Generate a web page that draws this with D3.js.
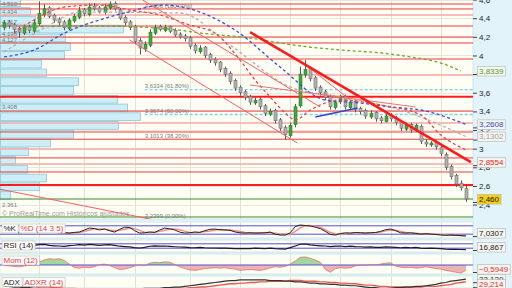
<!DOCTYPE html>
<html lang="es">
<head>
<meta charset="UTF-8">
<meta name="viewport" content="width=device-width, initial-scale=1.0">
<title>Análisis técnico</title>
<script src="https://d3js.org/d3.v7.min.js"></script>
<style>
  body { margin: 0; background: #e2f4f9; }
  #chart svg { display: block; font-family: 'Liberation Sans', Arial, sans-serif; }
</style>
</head>
<body>
<div id="chart"></div>
<script>
// daily candles
const opens = [4.30,4.36,4.33,4.29,4.24,4.31,4.26,4.34,4.44,4.51,
  4.43,4.39,4.36,4.29,4.37,4.41,4.49,4.44,4.53,4.51,
  4.46,4.51,4.56,4.49,4.41,4.36,4.31,4.16,4.07,4.11,
  4.24,4.31,4.27,4.31,4.27,4.23,4.21,4.19,4.11,4.04,
  4.09,4.01,3.96,3.93,3.86,3.81,3.73,3.66,3.61,3.56,
  3.49,3.53,3.46,3.37,3.41,3.31,3.23,3.14,3.26,3.46,
  3.79,3.86,3.76,3.66,3.61,3.56,3.44,3.51,3.56,3.44,
  3.51,3.43,3.41,3.34,3.39,3.33,3.29,3.36,3.33,3.29,
  3.21,3.26,3.19,3.24,3.07,3.04,3.07,3.01,2.94,2.81,
  2.71,2.63,2.57];
const highs = [4.38,4.38,4.35,4.31,4.33,4.33,4.38,4.58,4.55,4.53,
  4.45,4.41,4.38,4.40,4.45,4.52,4.51,4.56,4.56,4.53,
  4.55,4.58,4.58,4.51,4.43,4.38,4.33,4.19,4.15,4.28,
  4.33,4.33,4.33,4.32,4.29,4.25,4.23,4.21,4.13,4.11,
  4.10,4.03,3.98,3.94,3.88,3.83,3.75,3.68,3.63,3.58,
  3.55,3.55,3.48,3.43,3.43,3.33,3.25,3.28,3.48,3.88,
  3.95,3.88,3.78,3.68,3.63,3.58,3.52,3.58,3.58,3.52,
  3.53,3.45,3.43,3.41,3.40,3.35,3.38,3.38,3.35,3.30,
  3.28,3.28,3.27,3.26,3.10,3.08,3.09,3.03,2.96,2.83,
  2.73,2.66,2.60];
const lows = [4.27,4.29,4.24,4.19,4.22,4.24,4.24,4.32,4.41,4.40,
  4.35,4.32,4.27,4.27,4.35,4.39,4.42,4.42,4.48,4.45,
  4.44,4.49,4.48,4.38,4.32,4.27,4.12,4.01,4.04,4.09,
  4.22,4.26,4.25,4.24,4.20,4.18,4.15,4.07,4.02,4.02,
  3.97,3.92,3.89,3.82,3.77,3.69,3.62,3.57,3.52,3.47,
  3.47,3.42,3.35,3.35,3.27,3.19,3.10,3.12,3.23,3.44,
  3.76,3.72,3.62,3.57,3.52,3.42,3.42,3.48,3.42,3.42,
  3.39,3.37,3.32,3.32,3.29,3.27,3.28,3.29,3.25,3.19,
  3.19,3.17,3.18,3.05,3.02,3.02,2.99,2.92,2.77,2.67,
  2.59,2.55,2.43];
const closes = [4.35,4.32,4.28,4.25,4.30,4.27,4.35,4.45,4.50,4.42,
  4.38,4.35,4.30,4.38,4.42,4.48,4.45,4.52,4.50,4.47,
  4.52,4.55,4.50,4.40,4.35,4.30,4.15,4.08,4.12,4.25,
  4.30,4.28,4.30,4.26,4.22,4.20,4.18,4.10,4.05,4.08,
  4.00,3.95,3.92,3.85,3.80,3.72,3.65,3.60,3.55,3.50,
  3.52,3.45,3.38,3.40,3.30,3.22,3.15,3.25,3.45,3.80,
  3.85,3.75,3.65,3.60,3.55,3.45,3.50,3.55,3.45,3.50,
  3.42,3.40,3.35,3.38,3.32,3.30,3.35,3.32,3.28,3.22,
  3.25,3.20,3.25,3.08,3.05,3.06,3.02,2.95,2.80,2.70,
  2.62,2.58,2.46];

// month boundaries (candle index)
const monthStarts = [7, 16, 26, 37, 47, 57, 67, 77, 87];

// volume by price (bottom bin first)
const volBinStart = 2.45, volBinSize = 0.094;
const volProfile = [10,39,46,27,15,28,50,73,118,140,127,117,73,78,46,41,64,70,65,123,35,30,20];

// horizontal levels
const levels = [4.552,4.499,4.316,4.198,4.134,3.962,3.404,3.179,3.1013,2.901,2.750];
const softLevels = [4.434,3.790,3.276,2.997,2.836];
const strongLevels = [3.557,2.610];
const fibValues = [4.4950,3.6334,3.3674,3.1013,2.2399];
const fibNames = ["100,00%","61,80%","50,00%","38,20%","0,00%"];
const fibDashed = [3.6334,3.3674];
const leftLabelValues = [4.510,4.434,4.317,4.198,4.127,3.408,2.361];
const lowLine = 2.267;

// moving averages (candle index, value)
const greenMaIdx = [4,19,33,39,49,59,67,75,81,87,91];
const greenMaVal = [4.305,4.316,4.284,4.241,4.187,4.102,4.059,4.027,3.984,3.919,3.8339];
const blueMaIdx = [0,6,12,19,24,32,39,46,55,64,71,77,83,92];
const blueMaVal = [3.984,4.059,4.241,4.381,4.456,4.541,4.466,4.273,3.876,3.522,3.490,3.447,3.415,3.2608];
const grayMaIdx = [0,8,15,35,45,57,67,79,92];
const grayMaVal = [4.037,4.295,4.466,4.456,4.112,3.662,3.554,3.415,3.1302];
const redMaIdx = [2,7,12,19,25,31,37,42,47,50,53,56,58,61,67,75,83,87,92];
const redMaVal = [4.241,4.413,4.520,4.541,4.488,4.434,4.327,4.241,3.951,3.737,3.554,3.383,3.308,3.415,3.522,3.469,3.361,3.147,2.986];

// drawn trend lines [index, price]
const trendMain = [[49, 4.25], [93, 2.8554]];
const channelUpper = [[27.6, 4.595], [63, 3.447]];
const channelLower = [[25, 4.166], [58.4, 3.061]];
const peakLine = [[59.6, 3.919], [69, 3.522]];
const flatLine = [[49, 3.683], [82, 3.447]];
const blueSeg = [[62, 3.340], [70.4, 3.436]];
const oldLine = [[-1, 2.567], [30, 2.235]];

const priceTicks = [2.4,2.6,2.8,3,3.2,3.4,3.6,3.8,4,4.2,4.4,4.6];

// indicators
const stochK = [45,40,35,30,35,40,50,60,55,45,35,
  30,30,28,33,36,50,64,60,50,57,
  45,35,55,70,68,45,28,30,36,33,
  50,64,58,50,35,28,30,36,33,45,
  55,57,52,50,48,36,30,28,30,28,
  29,30,35,20,14,14,30,75,86,82,
  79,70,60,40,18,14,25,30,28,32,
  30,28,30,32,40,52,57,45,30,28,
  30,26,20,24,20,18,14,12,14,12,
  10,7.0307];
const stochD = [42,42,38,34,33,36,42,50,55,52,45,
  36,32,29,30,32,40,50,58,58,56,
  50,45,48,55,64,60,47,35,31,34,
  40,48,57,58,52,42,33,30,33,38,
  43,50,54,52,50,45,40,33,30,29,
  29,30,32,28,22,18,20,40,65,80,
  82,78,68,50,32,22,20,24,28,30,
  30,30,30,31,35,44,50,48,40,32,
  28,27,24,23,22,20,17,15,13,12,
  10,9];
const rsi = [52,50,46,44,50,47,55,62,64,55,
  52,50,46,54,57,62,58,64,60,56,
  60,62,56,48,45,42,35,32,38,48,
  52,48,50,46,43,41,40,36,34,38,
  34,32,32,30,30,28,27,27,26,26,
  30,28,26,30,26,24,22,35,50,66,
  68,60,55,52,50,44,48,50,45,48,
  44,43,40,42,38,37,42,40,38,34,
  37,34,38,30,29,30,28,26,22,20,
  19,18,16.867];
const momentum = [-0.05,-0.1,-0.15,-0.2,-0.1,-0.05,0,0.3,0.55,0.7,
  0.65,0.7,0.5,0.1,-0.3,-0.35,-0.25,-0.3,-0.2,0.05,
  0.1,-0.05,-0.3,-0.5,-0.45,-0.3,-0.1,0,-0.05,0.2,
  0.3,0.25,0.35,0.3,0.05,-0.2,-0.4,-0.55,-0.6,-0.5,
  -0.4,-0.35,-0.3,-0.35,-0.3,-0.4,-0.45,-0.6,-0.55,-0.5,
  -0.55,-0.6,-0.5,-0.3,-0.2,-0.25,-0.15,0.1,0.45,0.85,
  0.9,0.75,0.55,0.3,-0.5,-0.8,-0.4,-0.3,-0.35,-0.3,
  -0.1,0,-0.05,0.05,0,0.1,0.2,0.25,-0.1,-0.25,
  -0.3,-0.25,-0.35,-0.3,-0.2,-0.3,-0.4,-0.45,-0.6,-0.7,
  -0.8,-0.9,-0.5949];
const adx = [22,22,21,21,20,20,19,19,18,18,
  17,17,16,16,16,15,15,15,15,15,
  15,15,16,16,17,17,18,18,19,19,
  19,19,20,20,21,21,22,23,24,25,
  26,27,28,29,30,31,31,32,32,32,
  32,32,32,31,31,31,30,30,29,29,
  28,27,27,26,26,25,25,24,24,23,
  23,22,21,20,20,19,19,19,20,20,
  21,21,22,22,23,24,25,27,28,30,
  31,32,33.12];
const adxr = [24,24,23,23,23,22,22,21,21,21,
  20,20,19,19,19,18,18,17,17,17,
  16,16,16,16,16,16,17,17,17,17,
  18,18,18,18,19,19,19,20,20,21,
  21,22,23,24,25,26,26,27,27,28,
  28,29,29,30,30,30,30,31,31,31,
  30,30,30,29,29,28,28,27,27,26,
  26,25,24,24,23,22,22,21,21,21,
  21,21,21,21,22,22,22,23,24,25,
  27,28,29.214];

const n = closes.length;
const W = 512, H = 288, plotR = 473;
const loc = d3.formatLocale({decimal: ",", thousands: ".", grouping: [3], currency: ["", " €"]});
const f4 = loc.format(".4f"), f3 = loc.format(".3f"), fAxis = loc.format(".1~f");

const svg = d3.select("#chart").append("svg").attr("width", W).attr("height", H);
const defs = svg.append("defs");
svg.append("rect").attr("width", W).attr("height", H).attr("fill", "#e2f4f9");

const panels = {
  main: [0, 219], stoch: [222, 238], rsi: [240, 252], mom: [254, 274], adx: [276, 288]
};
Object.entries(panels).forEach(([k, [t, b]]) => {
  svg.append("rect").attr("x", 0).attr("y", t).attr("width", plotR).attr("height", b - t)
    .attr("fill", "#fffef4").attr("stroke", "#bcdbe3").attr("stroke-width", 0.6);
  defs.append("clipPath").attr("id", "clip-" + k).append("rect")
    .attr("x", 0).attr("y", t).attr("width", plotR).attr("height", b - t);
});

const x = d3.scaleBand().domain(d3.range(n)).range([2.5, 467.5]).paddingInner(0.35);
const xc = i => x(i) + x.bandwidth() / 2;
const xi = d3.scaleLinear().domain([0, n - 1]).range([xc(0), xc(n - 1)]);
const y = d3.scaleLinear().domain([2.2454, 4.5952]).range([219, 0]);

// vertical grid in every panel
Object.entries(panels).forEach(([k, [t, b]]) => {
  svg.append("g").selectAll("line").data(monthStarts).join("line")
    .attr("x1", d => Math.round(xi(d)) + 0.5).attr("x2", d => Math.round(xi(d)) + 0.5)
    .attr("y1", t).attr("y2", b).attr("stroke", "#e3e1d2").attr("stroke-width", 1);
});

const main = svg.append("g").attr("clip-path", "url(#clip-main)");

// faint horizontal grid
main.selectAll(".hg").data(priceTicks).join("line")
  .attr("x1", 0).attr("x2", plotR)
  .attr("y1", d => Math.round(y(d)) + 0.5).attr("y2", d => Math.round(y(d)) + 0.5)
  .attr("stroke", "#e6e6dc");

// volume profile
const vx = d3.scaleLinear().domain([0, d3.max(volProfile)]).range([0, 140]);
main.selectAll(".vp").data(volProfile).join("rect")
  .attr("x", 0.5)
  .attr("y", (d, k) => y(volBinStart + (k + 1) * volBinSize) + 0.5)
  .attr("width", d => vx(d))
  .attr("height", (d, k) => y(volBinStart + k * volBinSize) - y(volBinStart + (k + 1) * volBinSize) - 1)
  .attr("fill", "#cdeef6").attr("stroke", "#8fc8d5").attr("stroke-width", 0.8);

// horizontal levels
const hline = (vals, color, w) => main.append("g").selectAll("line").data(vals).join("line")
  .attr("x1", 0).attr("x2", plotR).attr("y1", d => y(d)).attr("y2", d => y(d))
  .attr("stroke", color).attr("stroke-width", w);
hline(softLevels, "#f5a9a9", 1.4);
hline(levels, "#ee3a3a", 1);
hline(strongLevels, "#ff1c1c", 2);
main.append("g").selectAll("line").data(fibDashed).join("line")
  .attr("x1", xi(28)).attr("x2", plotR).attr("y1", d => y(d)).attr("y2", d => y(d))
  .attr("stroke", "#7fd0ee").attr("stroke-width", 1.4).attr("stroke-dasharray", "3,2");
hline([lowLine], "#3a8a2a", 1.2);
hline([closes[n - 1]], "#3a8a2a", 1.2);

// text labels in the main panel
main.append("g").selectAll("text").data(fibValues).join("text")
  .attr("x", xi(28)).attr("y", d => y(d) - 1.6)
  .attr("font-size", 6).attr("fill", "#7a7a7a")
  .text((d, i) => f4(d) + " (" + fibNames[i] + ")");
main.append("g").selectAll("text").data(leftLabelValues).join("text")
  .attr("x", 2).attr("y", d => y(d) - 1.5)
  .attr("font-size", 6).attr("fill", "#7a7a7a").text(d => f3(d));
main.append("text").attr("x", 2).attr("y", 215.5).attr("font-size", 7).attr("fill", "#9a9a9a")
  .text("© ProRealTime.com   Históricos ajustados");

// candles
const idx = d3.range(n);
main.append("g").selectAll("line").data(idx).join("line")
  .attr("x1", i => Math.round(xc(i)) + 0.5).attr("x2", i => Math.round(xc(i)) + 0.5)
  .attr("y1", i => y(highs[i])).attr("y2", i => y(lows[i]))
  .attr("stroke", "#555").attr("stroke-width", 1);
main.append("g").selectAll("rect").data(idx).join("rect")
  .attr("x", i => Math.round(xc(i)) - 1)
  .attr("y", i => y(Math.max(opens[i], closes[i])))
  .attr("width", 3)
  .attr("height", i => Math.max(1, Math.abs(y(opens[i]) - y(closes[i]))))
  .attr("fill", i => closes[i] >= opens[i] ? "#3da83d" : "#b2b2b2")
  .attr("stroke", i => closes[i] >= opens[i] ? "#2c7a2c" : "#6a6a6a").attr("stroke-width", 0.6);

// moving averages
const maLine = d3.line().x(d => xi(d[0])).y(d => y(d[1])).curve(d3.curveMonotoneX);
const drawMa = (ix, vals, color) => main.append("path")
  .datum(ix.map((k, j) => [k, vals[j]])).attr("d", maLine)
  .attr("fill", "none").attr("stroke", color).attr("stroke-width", 1.3).attr("stroke-dasharray", "3,2.5");
drawMa(greenMaIdx, greenMaVal, "#6aaa2a");
drawMa(grayMaIdx, grayMaVal, "#b0b0b0");
drawMa(blueMaIdx, blueMaVal, "#3a4ed8");
drawMa(redMaIdx, redMaVal, "#e24848");

// trend lines
const seg = d3.line().x(d => xi(d[0])).y(d => y(d[1]));
const drawSeg = (pts, color, w) => main.append("path").datum(pts).attr("d", seg)
  .attr("fill", "none").attr("stroke", color).attr("stroke-width", w);
drawSeg(channelUpper, "#f06060", 1);
drawSeg(channelLower, "#f06060", 1);
drawSeg(peakLine, "#f06060", 1);
drawSeg(flatLine, "#f07070", 1);
drawSeg(oldLine, "#f06060", 1);
drawSeg(blueSeg, "#2f45d0", 1.4);
drawSeg(trendMain, "#ff1a1a", 2.5);

// ---- indicator panels ----
const stochY = d3.scaleLinear().domain([0, 100]).range([237, 223]);
const rsiY = d3.scaleLinear().domain([0, 100]).range([251.5, 240.5]);
const momY = d3.scaleLinear().domain([-1.2, 1.2]).range([275.8, 254.2]);
const adxY = d3.scaleLinear().domain([18, 38]).range([289, 276]);

const lineOf = sc => d3.line().x((d, i) => xc(i)).y(d => sc(d));
const levelLines = (g, vals, sc) => g.append("g").selectAll("line").data(vals).join("line")
  .attr("x1", 0).attr("x2", plotR).attr("y1", d => sc(d)).attr("y2", d => sc(d))
  .attr("stroke", "#5252d6").attr("stroke-width", 1);

const gS = svg.append("g").attr("clip-path", "url(#clip-stoch)");
levelLines(gS, [80, 20], stochY);
gS.append("path").datum(stochD).attr("d", lineOf(stochY)).attr("fill", "none").attr("stroke", "#f08a8a").attr("stroke-width", 1.4);
gS.append("path").datum(stochK).attr("d", lineOf(stochY)).attr("fill", "none").attr("stroke", "#222").attr("stroke-width", 1);

const gR = svg.append("g").attr("clip-path", "url(#clip-rsi)");
levelLines(gR, [70, 30], rsiY);
gR.append("path").datum(rsi).attr("d", lineOf(rsiY)).attr("fill", "none").attr("stroke", "#1a1a2a").attr("stroke-width", 1.2);

const z0 = momY(0);
defs.append("clipPath").attr("id", "mom-pos").append("rect").attr("x", 0).attr("y", 254).attr("width", plotR).attr("height", z0 - 254);
defs.append("clipPath").attr("id", "mom-neg").append("rect").attr("x", 0).attr("y", z0).attr("width", plotR).attr("height", 274 - z0);
const momArea = d3.area().x((d, i) => xc(i)).y0(z0).y1(d => momY(d));
const gM = svg.append("g").attr("clip-path", "url(#clip-mom)");
gM.append("path").datum(momentum).attr("d", momArea).attr("fill", "#a6d69c").attr("clip-path", "url(#mom-pos)");
gM.append("path").datum(momentum).attr("d", momArea).attr("fill", "#e9b4b2").attr("clip-path", "url(#mom-neg)");
levelLines(gM, [0], momY);
gM.append("path").datum(momentum).attr("d", lineOf(momY)).attr("fill", "none").attr("stroke", "#e07070").attr("stroke-width", 0.8);

const gA = svg.append("g").attr("clip-path", "url(#clip-adx)");
gA.append("path").datum(adxr).attr("d", lineOf(adxY)).attr("fill", "none").attr("stroke", "#e85a5a").attr("stroke-width", 1.4);
gA.append("path").datum(adx).attr("d", lineOf(adxY)).attr("fill", "none").attr("stroke", "#333").attr("stroke-width", 1.2);

// ---- right axis ----
// values shown in tags on the price axis; tick labels they cover are left out
const priceTags = [greenMaVal[greenMaVal.length - 1], blueMaVal[blueMaVal.length - 1],
  grayMaVal[grayMaVal.length - 1], trendMain[1][1], closes[n - 1]];
const ax = svg.append("g").attr("transform", `translate(${plotR},0)`)
  .call(d3.axisRight(y).tickValues(priceTicks).tickSize(4).tickPadding(2)
    .tickFormat(d => priceTags.some(v => Math.abs(y(v) - y(d)) < 5) ? "" : fAxis(d)));
ax.select(".domain").remove();
ax.selectAll("text").attr("font-size", 8).attr("fill", "#222").attr("font-family", "'Liberation Sans', Arial, sans-serif");
ax.selectAll("line").attr("stroke", "#444");

function tag(yPos, label, color, bg) {
  const g = svg.append("g");
  g.append("line").attr("x1", plotR).attr("x2", plotR + 4)
    .attr("y1", yPos + 3.5).attr("y2", yPos + 3.5).attr("stroke", "#444");
  const t = g.append("text").attr("x", plotR + 6).attr("y", yPos).attr("dy", "0.35em")
    .attr("font-size", 8).attr("fill", color).text(label);
  const b = t.node().getBBox();
  g.insert("rect", "text").attr("x", b.x - 1.5).attr("y", b.y - 0.3)
    .attr("width", b.width + 3).attr("height", b.height + 0.6)
    .attr("fill", bg || "#f5f5f0").attr("stroke", "#b5b5b5").attr("stroke-width", 0.6);
}
tag(y(priceTags[0]), f4(priceTags[0]), "#5c9a1e");
tag(y(priceTags[1]), f4(priceTags[1]), "#2f43d0");
tag(y(priceTags[2]), f4(priceTags[2]), "#a0a0a0");
tag(y(priceTags[3]), f4(priceTags[3]), "#e42020");
tag(y(priceTags[4]), f3(priceTags[4]), "#111", "#f5cf10");

tag(Math.min(stochY(stochK[n - 1]), 233), f4(stochK[n - 1]), "#222");
tag(Math.min(rsiY(rsi[n - 1]), 247), f3(rsi[n - 1]), "#222");
tag(Math.min(momY(momentum[n - 1]), 269), f4(momentum[n - 1]), "#e03030");
const adxPos = Math.min(adxY(adx[n - 1]), 279.5);
tag(adxPos, f3(adx[n - 1]), "#333");
tag(adxPos + 5, f3(adxr[n - 1]), "#e03030");

// panel legends
function legend(yTop, parts) {
  let xp = 2;
  parts.forEach(([txt, color]) => {
    const t = svg.append("text").attr("x", xp + 1.5).attr("y", yTop + 7).attr("font-size", 8).attr("fill", color).text(txt);
    const b = t.node().getBBox();
    svg.insert("rect", () => t.node()).attr("x", xp).attr("y", yTop)
      .attr("width", b.width + 3).attr("height", 9)
      .attr("fill", "#fdfdfb").attr("stroke", "#bbbbbb").attr("stroke-width", 0.6);
    xp += b.width + 4;
  });
}
legend(224, [["%K", "#222"], ["%D (14 3 5)", "#e04040"]]);
legend(241, [["RSI (14)", "#222"]]);
legend(256, [["Mom (12)", "#e04040"]]);
legend(277.5, [["ADX", "#222"], ["ADXR (14)", "#e04040"]]);
</script>
</body>
</html>
